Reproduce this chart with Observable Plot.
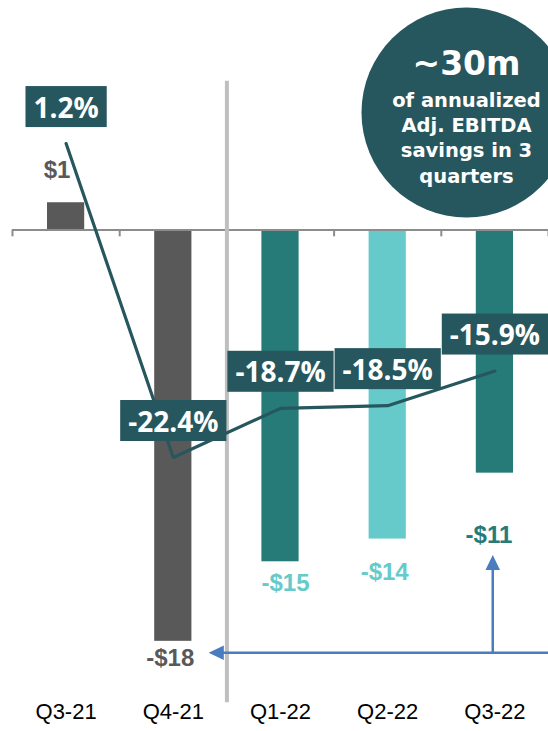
<!DOCTYPE html>
<html><head><meta charset="utf-8">
<script src="https://cdn.jsdelivr.net/npm/d3@7"></script>
<script src="https://cdn.jsdelivr.net/npm/@observablehq/plot@0.6"></script>
<style>
html,body{margin:0;padding:0;background:#fff;overflow:hidden;}
#chart svg{display:block;}
</style>
</head><body><div id="chart"></div>
<script>
// ---- data ----
const quarters = ["Q3-21", "Q4-21", "Q1-22", "Q2-22", "Q3-22"];
const ebitda = [1.2, -18.1, -14.6, -13.6, -10.7];          // Adj. EBITDA ($m), bars
const ebitdaLabels = ["$1", "-$18", "-$15", "-$14", "-$11"];
const marginPct = [1.2, -22.4, -18.7, -18.5, -15.9];       // Adj. EBITDA margin (%), line
const marginLabels = ["1.2%", "-22.4%", "-18.7%", "-18.5%", "-15.9%"];
const calloutValue = "~30m";
const calloutLines = ["of annualized", "Adj. EBITDA", "savings in 3", "quarters"];

// ---- styles ----
const barColor = {"Q3-21": "#595959", "Q4-21": "#595959", "Q1-22": "#267A77", "Q2-22": "#66CACA", "Q3-22": "#267A77"};
const labelStyle = {
  "Q3-21": {fill: "#595959", dx: -9, dy: -32},
  "Q4-21": {fill: "#595959", dx: -3, dy: 17},
  "Q1-22": {fill: "#66CACA", dx: 5, dy: 22},
  "Q2-22": {fill: "#66CACA", dx: -3, dy: 33},
  "Q3-22": {fill: "#267A77", dx: -6, dy: 62}
};
const DARK = "#27575E", BLUE = "#4A7CC0";

const data = quarters.map((q, i) => ({
  i, quarter: q, value: ebitda[i], label: ebitdaLabels[i], pct: marginPct[i], pctLabel: marginLabels[i]
}));

// secondary (margin %) axis mapped onto the primary y units
const pctToY = d3.scaleLinear().domain([0, 10]).range([3.10, 3.10 + 5.854]);

// annotation anchors (in data units)
const ann = {
  sepX: 1.5, sepTop: 6.55, sepBottom: -20.8,
  circleX: 3.735, circleY: 5.17,
  arrowY: -18.6, arrowRight: 4.5, arrowLeftTip: 1.33, arrowUpX: 3.98, arrowUpTip: -14.3
};

// filled triangle symbols with the tip at the origin
const triLeft = {draw(ctx, size) { const r = Math.sqrt(size / Math.PI); ctx.moveTo(0, 0); ctx.lineTo(2.7 * r, -1.3 * r); ctx.lineTo(2.7 * r, 1.3 * r); ctx.closePath(); }};
const triUp = {draw(ctx, size) { const r = Math.sqrt(size / Math.PI); ctx.moveTo(0, 0); ctx.lineTo(-1.3 * r, 2.7 * r); ctx.lineTo(1.3 * r, 2.7 * r); ctx.closePath(); }};

const chart = Plot.plot({
  width: 548,
  height: 731,
  marginLeft: 12,
  marginRight: 0,
  marginTop: 0,
  marginBottom: 47,
  style: {fontFamily: "'Liberation Sans', Arial, sans-serif", background: "white", color: "black", overflow: "visible"},
  x: {domain: [-0.5, 4.5], axis: null},
  y: {domain: [-20, 10.1], axis: null},
  marks: [
    Plot.rectY(data, {x1: d => d.i - 0.5, x2: d => d.i + 0.5, y1: 0, y2: "value",
      fill: d => barColor[d.quarter], insetLeft: 35, insetRight: 35}),
    Plot.ruleY([0], {x1: -0.5, x2: 4.5, stroke: "#8C8C8C", strokeWidth: 2}),
    Plot.ruleX(d3.range(-0.5, 5, 1), {y1: 0, y2: -0.3, stroke: "#8C8C8C", strokeWidth: 2}),
    Plot.ruleX([ann.sepX], {y1: ann.sepTop, y2: ann.sepBottom, stroke: "#BFBFBF", strokeWidth: 4}),
    ...data.map(d => Plot.text([d], {x: "i", y: "value", text: "label",
      fill: labelStyle[d.quarter].fill, dx: labelStyle[d.quarter].dx, dy: labelStyle[d.quarter].dy,
      fontSize: 24, fontWeight: "bold", fontFamily: "'Liberation Sans', Arial, sans-serif"})),
    Plot.line(data, {x: "i", y: d => pctToY(d.pct), stroke: DARK, strokeWidth: 3.2, strokeLinecap: "round", strokeLinejoin: "miter"}),
    Plot.text(data, {x: "i", y: d => pctToY(d.pct), text: "pctLabel", dy: -35, fill: "white",
      fontSize: 28, fontWeight: 700, fontFamily: "'Open Sans', sans-serif"}),
    Plot.dot([{x: ann.circleX, y: ann.circleY}], {x: "x", y: "y", r: 105, fill: DARK, stroke: null}),
    Plot.text([calloutValue], {x: ann.circleX, y: ann.circleY, text: d => d, dy: -48, fill: "white",
      fontSize: 33, fontWeight: "bold", fontFamily: "'DejaVu Sans', sans-serif"}),
    Plot.text([calloutLines.join("\n")], {x: ann.circleX, y: ann.circleY, text: d => d, dy: 24, fill: "white",
      fontSize: 19.5, lineHeight: 1.3, fontWeight: "bold", fontFamily: "'DejaVu Sans', sans-serif"}),
    Plot.line([[ann.arrowRight, ann.arrowY], [ann.arrowLeftTip + 0.1, ann.arrowY]], {stroke: BLUE, strokeWidth: 2.5}),
    Plot.line([[ann.arrowUpX, ann.arrowY], [ann.arrowUpX, ann.arrowUpTip - 0.4]], {stroke: BLUE, strokeWidth: 2.5}),
    Plot.dot([[ann.arrowLeftTip, ann.arrowY]], {symbol: triLeft, r: 5.6, fill: BLUE, stroke: null}),
    Plot.dot([[ann.arrowUpX, ann.arrowUpTip]], {symbol: triUp, r: 5.6, fill: BLUE, stroke: null}),
    Plot.text(data, {x: "i", text: "quarter", frameAnchor: "bottom", dy: 34, fill: "black",
      fontSize: 22, fontFamily: "'Liberation Sans', Arial, sans-serif"})
  ]
});

document.getElementById("chart").append(chart);

// dark boxes behind the margin labels
const labelSet = new Set(marginLabels);
Array.from(chart.querySelectorAll("text"))
  .filter(t => labelSet.has(t.textContent.trim()))
  .forEach(t => {
    const b = t.getBBox();
    const r = document.createElementNS("http://www.w3.org/2000/svg", "rect");
    const cy = b.y + b.height / 2;
    r.setAttribute("x", b.x - 8);
    r.setAttribute("width", b.width + 16);
    r.setAttribute("y", cy - 20.5);
    r.setAttribute("height", 41);
    r.setAttribute("fill", DARK);
    if (t.getAttribute("transform")) r.setAttribute("transform", t.getAttribute("transform"));
    t.parentNode.insertBefore(r, t);
  });
</script>
</body></html>
